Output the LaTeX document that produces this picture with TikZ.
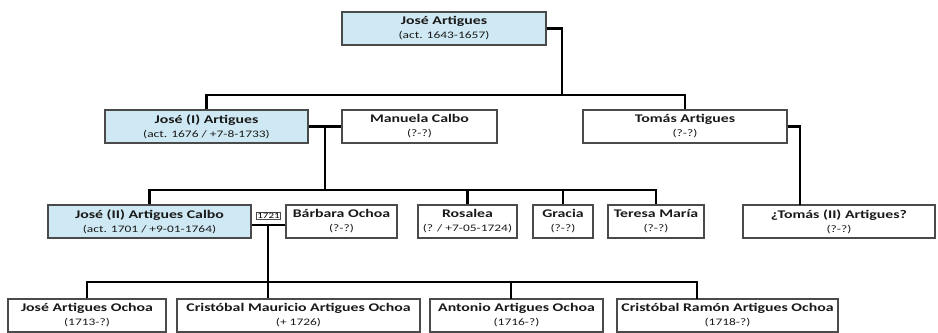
\documentclass[tikz,border=0pt]{standalone}
\usepackage{fontspec}
\newfontfamily\gfont[FakeStretch=1.35]{Carlito}
\definecolor{kinblue}{HTML}{CFE9F4}
\definecolor{kinline}{HTML}{4A4A4A}
\tikzset{
  pbox/.style = {draw=kinline, line width=1.1pt, rectangle, align=center,
                 minimum height=0.99cm, inner sep=0pt, font=\gfont,
                 text=black!90},
  blue/.style = {fill=kinblue},
  kin/.style  = {black, line width=2.4pt},
  yr/.style   = {draw=kinline, line width=0.5pt, inner sep=0.8pt,
                 font=\gfont\fontsize{7}{7}\selectfont, fill=white}
}
\newcommand{\nm}[1]{{\bfseries\fontsize{10}{11}\selectfont #1}}
\newcommand{\dt}[1]{{\fontsize{8.5}{9}\selectfont #1}}

\begin{document}
\begin{tikzpicture}[x=0.03cm, y=-0.03cm]
	\useasboundingbox (0,0) rectangle (938,333);

	% Generation 0
	\node[pbox, blue, minimum width=6.12cm] (ja) at (444,28.5) {\nm{José Artigues}\\\dt{(act. 1643-1657)}};

	% Generation 1
	\node[pbox, blue, minimum width=6.09cm] (j1) at (206.5,126.5) {\nm{José (I) Artigues}\\\dt{(act. 1676 / +7-8-1733)}};
	\node[pbox, minimum width=4.65cm] (mc) at (419.5,126.5) {\nm{Manuela Calbo}\\\dt{(?-?)}};
	\node[pbox, minimum width=6.12cm] (tom) at (685,126.5) {\nm{Tomás Artigues}\\\dt{(?-?)}};

	% Generation 2
	\node[pbox, blue, minimum width=6.09cm] (j2) at (149.5,221.5) {\nm{José (II) Artigues Calbo}\\\dt{(act. 1701 / +9-01-1764)}};
	\node[pbox, minimum width=3.33cm] (bo) at (341.5,221.5) {\nm{Bárbara Ochoa}\\\dt{(?-?)}};
	\node[pbox, minimum width=2.97cm] (ro) at (467.5,221.5) {\nm{Rosalea}\\\dt{(? / +7-05-1724)}};
	\node[pbox, minimum width=1.80cm] (gr) at (563,221.5) {\nm{Gracia}\\\dt{(?-?)}};
	\node[pbox, minimum width=2.88cm] (tm) at (656,221.5) {\nm{Teresa María}\\\dt{(?-?)}};
	\node[pbox, minimum width=5.76cm] (t2) at (839,221.5) {\nm{¿Tomás (II) Artigues?}\\\dt{(?-?)}};

	% Generation 3
	\node[pbox, minimum width=4.74cm] (jo) at (87,315.5) {\nm{José Artigues Ochoa}\\\dt{(1713-?)}};
	\node[pbox, minimum width=7.29cm] (cm) at (298.5,315.5) {\nm{Cristóbal Mauricio Artigues Ochoa}\\\dt{(+ 1726)}};
	\node[pbox, minimum width=5.19cm] (ao) at (516.5,315.5) {\nm{Antonio Artigues Ochoa}\\\dt{(1716-?)}};
	\node[pbox, minimum width=6.63cm] (cr) at (727.5,315.5) {\nm{Cristóbal Ramón Artigues Ochoa}\\\dt{(1718-?)}};

	% Junctions
	\coordinate (b1) at (562,95);
	\coordinate (m1) at (325,126.5);
	\coordinate (b2) at (325,190);
	\coordinate (t2in) at (800,205);
	\coordinate (m2) at (268,225);
	\coordinate (b3) at (268,282);
	\coordinate (aoin) at (511,299);
	\coordinate (crin) at (697,299);

	% Lines
	\draw[kin] (ja.east) -| (b1);
	\draw[kin] (j1.north) |- (b1) -| (tom.north);
	\draw[kin] (j1.east) -- (mc.west);
	\draw[kin] (m1) -- (b2);
	\draw[kin] (j2.north) |- (b2) -| (tm.north);
	\draw[kin] (ro.north) -- (ro.north |- b2);
	\draw[kin] (gr.north) -- (gr.north |- b2);
	\draw[kin] (tom.east) -| (t2in);
	\draw[kin] (j2.east |- m2) -- (bo.west |- m2);
	\draw[kin] (m2) -- (cm.north -| m2);
	\draw[kin] (jo.north) |- (crin |- b3) -- (crin);
	\draw[kin] (aoin) -- (aoin |- b3);
	\node[yr] (y1721) at (268.5,215.5) {1721};
\end{tikzpicture}
\end{document}
